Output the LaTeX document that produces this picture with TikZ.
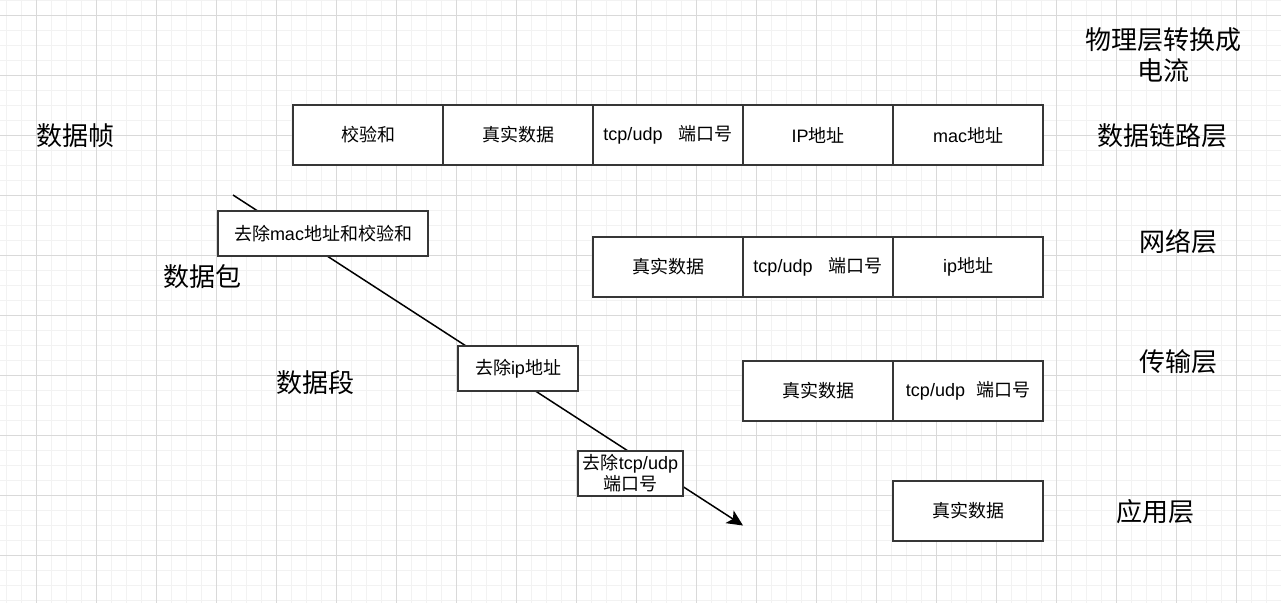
\documentclass[tikz,border=0pt]{standalone}
\usepackage{fontspec}
\setmainfont{Noto Sans CJK SC}
\newfontfamily\lat{Liberation Sans}
\usetikzlibrary{arrows.meta}
\definecolor{boxline}{HTML}{363636}
\definecolor{majorgrid}{HTML}{D9D9D9}
\definecolor{minorgrid}{HTML}{F2F2F2}

\begin{document}
\begin{tikzpicture}
  [x=1pt,y=-1pt,
   field/.style={draw=boxline,line width=1.5pt,fill=white,minimum width=150pt,
     minimum height=60pt,inner sep=0pt,font=\fontsize{18}{22}\selectfont},
   cut/.style={field,minimum height=45pt,align=center,font=\fontsize{18}{21}\selectfont},
   layer/.style={font=\fontsize{26}{31}\selectfont,align=center}]
  \useasboundingbox (0,0) rectangle (1281,603);
  \fill[white] (0,0) rectangle (1281,603);
  \foreach \gx in {6.7,21.7,...,1281} \draw[minorgrid,line width=1pt] (\gx,0) -- (\gx,603);
  \foreach \gy in {0,15,...,603} \draw[minorgrid,line width=1pt] (0,\gy) -- (1281,\gy);
  \foreach \gx in {36.7,96.7,...,1281} \draw[majorgrid,line width=1pt] (\gx,0) -- (\gx,603);
  \foreach \gy in {15,75,...,603} \draw[majorgrid,line width=1pt] (0,\gy) -- (1281,\gy);

  \node[field] (f1) at (368,135) {校验和};
  \node[field] (f2) at (518,135) {真实数据};
  \node[field] (f3) at (668,135) {{\lat tcp/udp}\hspace{16pt}端口号};
  \node[field] (f4) at (818,135) {{\lat IP}地址};
  \node[field] (f5) at (968,135) {{\lat mac}地址};

  \node[field] (p1) at (668,267) {真实数据};
  \node[field] (p2) at (818,267) {{\lat tcp/udp}\hspace{16pt}端口号};
  \node[field] (p3) at (968,267) {{\lat ip}地址};

  \node[field] (s1) at (818,391) {真实数据};
  \node[field] (s2) at (968,391) {{\lat tcp/udp}\hspace{11pt}端口号};

  \node[field] (a1) at (968,511) {真实数据};

  \coordinate (from) at (233,195);
  \coordinate (to) at (743,525.5);
  \draw[line width=1.5pt,-{Stealth[length=16pt,width=15pt,inset=4pt]}] (from) -- (to);

  \node[cut,minimum width=210pt] (c1) at (323,233.3) {去除{\lat mac}地址和校验和};
  \node[cut,minimum width=120pt] (c2) at (518,368.3) {去除{\lat ip}地址};
  \node[cut,minimum width=105pt] (c3) at (630.5,473.3) {去除{\lat tcp/udp}\\端口号};

  \node[layer] (t1) at (75,136) {数据帧};
  \node[layer] (t2) at (202,277) {数据包};
  \node[layer] (t3) at (315,383) {数据段};

  \node[layer] (r0) at (1163,55) {物理层转换成\\电流};
  \node[layer] (r1) at (1162,136) {数据链路层};
  \node[layer] (r2) at (1178,242) {网络层};
  \node[layer] (r3) at (1178,362) {传输层};
  \node[layer] (r4) at (1155,512) {应用层};
\end{tikzpicture}
\end{document}
